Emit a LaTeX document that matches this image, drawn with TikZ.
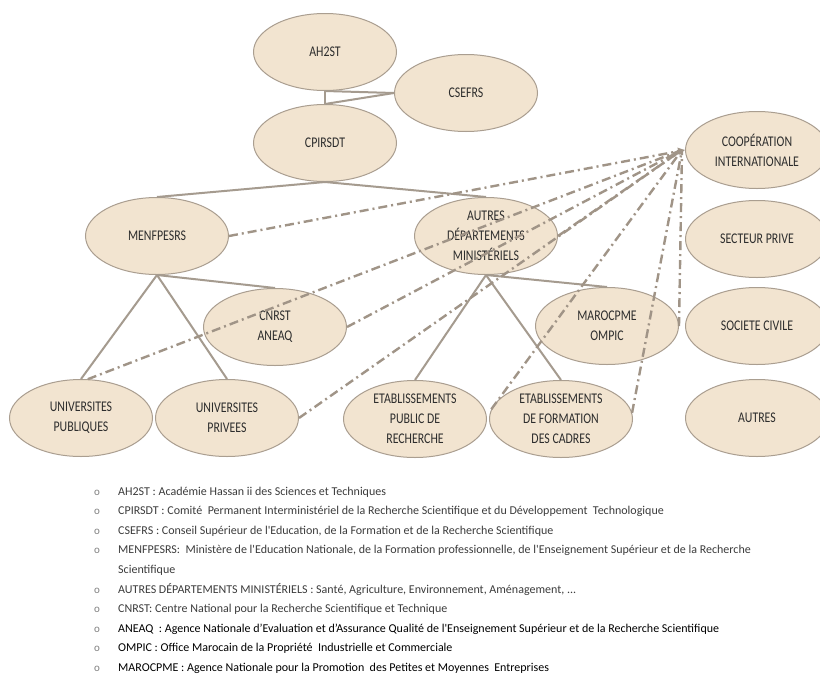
\documentclass[tikz,border=0pt]{standalone}
\usepackage{fontspec}
\setmainfont{Carlito}
\newfontfamily\nodefont[FakeStretch=0.8]{Carlito}
\newfontfamily\legfont{Carlito}
\usetikzlibrary{shapes.geometric,arrows.meta}
\definecolor{fillc}{RGB}{242,228,208}
\definecolor{edgec}{RGB}{170,158,144}
\definecolor{linec}{RGB}{165,155,143}
\definecolor{dashc}{RGB}{160,148,135}
\definecolor{txtc}{RGB}{45,45,45}
\definecolor{legc}{RGB}{60,60,60}
\begin{document}
\begin{tikzpicture}[x=1pt,y=-1pt,
  org/.style={ellipse,draw=edgec,line width=1pt,fill=fillc,minimum width=143pt,minimum height=77pt,inner sep=0pt,align=center,font=\nodefont\fontsize{14.8}{20}\selectfont,text=txtc},
  tree/.style={draw=linec,line width=2pt},
  link/.style={draw=dashc,line width=2.4pt,dash pattern=on 9pt off 4pt on 2pt off 4pt},
  leg/.style={anchor=base west,inner sep=0pt,font=\legfont\fontsize{12}{14}\selectfont,text=legc},
  bul/.style={anchor=base,inner sep=0pt,font=\legfont\fontsize{11}{13}\selectfont,text=gray}]
\clip (0,0) rectangle (820,675);
\fill[white] (0,0) rectangle (820,675);

% nodes
\node[org] (ah2st) at (325,52) {AH2ST};
\node[org] (csefrs) at (466,93) {CSEFRS};
\node[org] (cpirsdt) at (325,143) {CPIRSDT};
\node[org] (menf) at (157,236) {MENFPESRS};
\node[org] (autres) at (486,236) {AUTRES\\DÉPARTEMENTS\\MINISTÉRIELS};
\node[org] (cnrst) at (275,327) {CNRST\\ANEAQ};
\node[org] (maroc) at (607,326) {MAROCPME\\OMPIC};
\node[org] (upub) at (81,418) {UNIVERSITES\\PUBLIQUES};
\node[org] (upriv) at (227,418) {UNIVERSITES\\PRIVEES};
\node[org] (etab1) at (415,419) {ETABLISSEMENTS\\PUBLIC DE\\RECHERCHE};
\node[org] (etab2) at (561,419) {ETABLISSEMENTS\\DE FORMATION\\DES CADRES};
\node[org] (coop) at (757,150) {COOPÉRATION\\INTERNATIONALE};
\node[org] (secteur) at (757,239) {SECTEUR PRIVE};
\node[org] (civile) at (757,326) {SOCIETE CIVILE};
\node[org] (autres2) at (757,418) {AUTRES};

% tree connectors
\draw[tree] (ah2st.south) -- (cpirsdt.north);
\draw[tree] (ah2st.south) -- (csefrs.west);
\draw[tree] (cpirsdt.north) -- (csefrs.west);
\draw[tree] (cpirsdt.south) -- (menf.north);
\draw[tree] (cpirsdt.south) -- (autres.north);
\draw[tree] (menf.south) -- (upub.north);
\draw[tree] (menf.south) -- (upriv.north);
\draw[tree] (menf.south) -- (cnrst.north);
\draw[tree] (autres.south) -- (etab1.north);
\draw[tree] (autres.south) -- (etab2.north);
\draw[tree] (autres.south) -- (maroc.north);

% cooperation links
\coordinate (hub) at ([xshift=-3pt]coop.west);
\draw[link] (upub.80) -- (hub);
\draw[link] (cnrst.east) -- (hub);
\draw[link] (upriv.east) -- (hub);
\draw[link] (autres.east) -- (hub);
\draw[link] (etab2.172) -- (hub);
\draw[link] (etab2.5) -- (hub);
\draw[link] (maroc.east) -- (hub);
\draw[link,-{Triangle[length=7pt,width=7pt]}] (menf.east) -- (coop.west);

% legend
\node[bul] (b1) at (97,495) {o};
\node[leg] (l1) at (118,495) {AH2ST : Académie Hassan ii des Sciences et Techniques};
\node[bul] (b2) at (97,514.5) {o};
\node[leg] (l2) at (118,514.5) {CPIRSDT : Comité\ \ Permanent Interministériel de la Recherche Scientifique et du Développement\ \ Technologique};
\node[bul] (b3) at (97,534) {o};
\node[leg] (l3) at (118,534) {CSEFRS : Conseil Supérieur de l'Education, de la Formation et de la Recherche Scientifique};
\node[bul] (b4) at (97,553.5) {o};
\node[leg] (l4) at (118,553.5) {MENFPESRS:\ \ Ministère de l'Education Nationale, de la Formation professionnelle, de l'Enseignement Supérieur et de la Recherche};
\node[leg] (l4b) at (118,573) {Scientifique};
\node[bul] (b5) at (97,593) {o};
\node[leg] (l5) at (118,593) {AUTRES DÉPARTEMENTS MINISTÉRIELS : Santé, Agriculture, Environnement, Aménagement, ...};
\node[bul] (b6) at (97,612.5) {o};
\node[leg] (l6) at (118,612.5) {CNRST: Centre National pour la Recherche Scientifique et Technique};
\node[bul] (b7) at (97,632) {o};
\node[leg,text=black] (l7) at (118,632) {ANEAQ\ \ : Agence Nationale d’Evaluation et d’Assurance Qualité de l'Enseignement Supérieur et de la Recherche Scientifique};
\node[bul] (b8) at (97,651.5) {o};
\node[leg,text=black] (l8) at (118,651.5) {OMPIC : Office Marocain de la Propriété\ \ Industrielle et Commerciale};
\node[bul] (b9) at (97,671) {o};
\node[leg,text=black] (l9) at (118,671) {MAROCPME : Agence Nationale pour la Promotion\ \ des Petites et Moyennes\ \ Entreprises};
\end{tikzpicture}
\end{document}
